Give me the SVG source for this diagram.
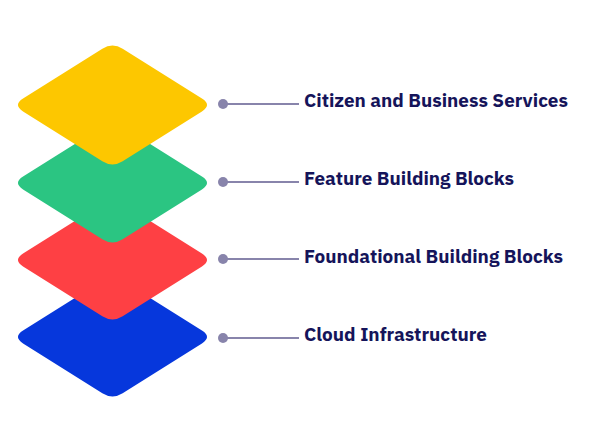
<svg xmlns="http://www.w3.org/2000/svg" width="589" height="423" viewBox="0 0 589 423">
<style>
.lbl{font-family:"IBM Plex Sans","Liberation Sans","DejaVu Sans",sans-serif;font-weight:700;font-size:18px;fill:#15145a}
.ln{stroke:#8884ab;stroke-width:2}
.dot{fill:#8884ab}
</style>
<defs>
<path id="rh" d="M10.15,-56.31 L89.45,-6.39 Q99.6,0 89.45,6.39 L10.15,56.31 Q0,62.7 -10.15,56.31 L-89.45,6.39 Q-99.6,0 -89.45,-6.39 L-10.15,-56.31 Q0,-62.7 10.15,-56.31 Z"/>
</defs>
<rect width="589" height="423" fill="#ffffff"/>
<g id="layer-cloud"><use href="#rh" x="112.5" y="337" fill="#0637dc"/></g>
<g id="layer-foundational"><use href="#rh" x="112.5" y="260" fill="#fe4044"/></g>
<g id="layer-feature"><use href="#rh" x="112.5" y="183" fill="#2bc582"/></g>
<g id="layer-citizen"><use href="#rh" x="112.5" y="105" fill="#fdc700"/></g>
<g id="connectors">
<line class="ln" x1="223" y1="104" x2="299" y2="104"/>
<line class="ln" x1="223" y1="182" x2="299" y2="182"/>
<line class="ln" x1="223" y1="259" x2="299" y2="259"/>
<line class="ln" x1="223" y1="338" x2="299" y2="338"/>
<circle class="dot" cx="223" cy="104" r="5"/>
<circle class="dot" cx="223" cy="182" r="5"/>
<circle class="dot" cx="223" cy="259" r="5"/>
<circle class="dot" cx="223" cy="338" r="5"/>
</g>
<g id="label-citizen"><text class="lbl" x="304" y="107" textLength="264" lengthAdjust="spacingAndGlyphs">Citizen and Business Services</text></g>
<g id="label-feature"><text class="lbl" x="304" y="185" textLength="210" lengthAdjust="spacingAndGlyphs">Feature Building Blocks</text></g>
<g id="label-foundational"><text class="lbl" x="304" y="263" textLength="259" lengthAdjust="spacingAndGlyphs">Foundational Building Blocks</text></g>
<g id="label-cloud"><text class="lbl" x="304" y="341" textLength="183" lengthAdjust="spacingAndGlyphs">Cloud Infrastructure</text></g>
</svg>
